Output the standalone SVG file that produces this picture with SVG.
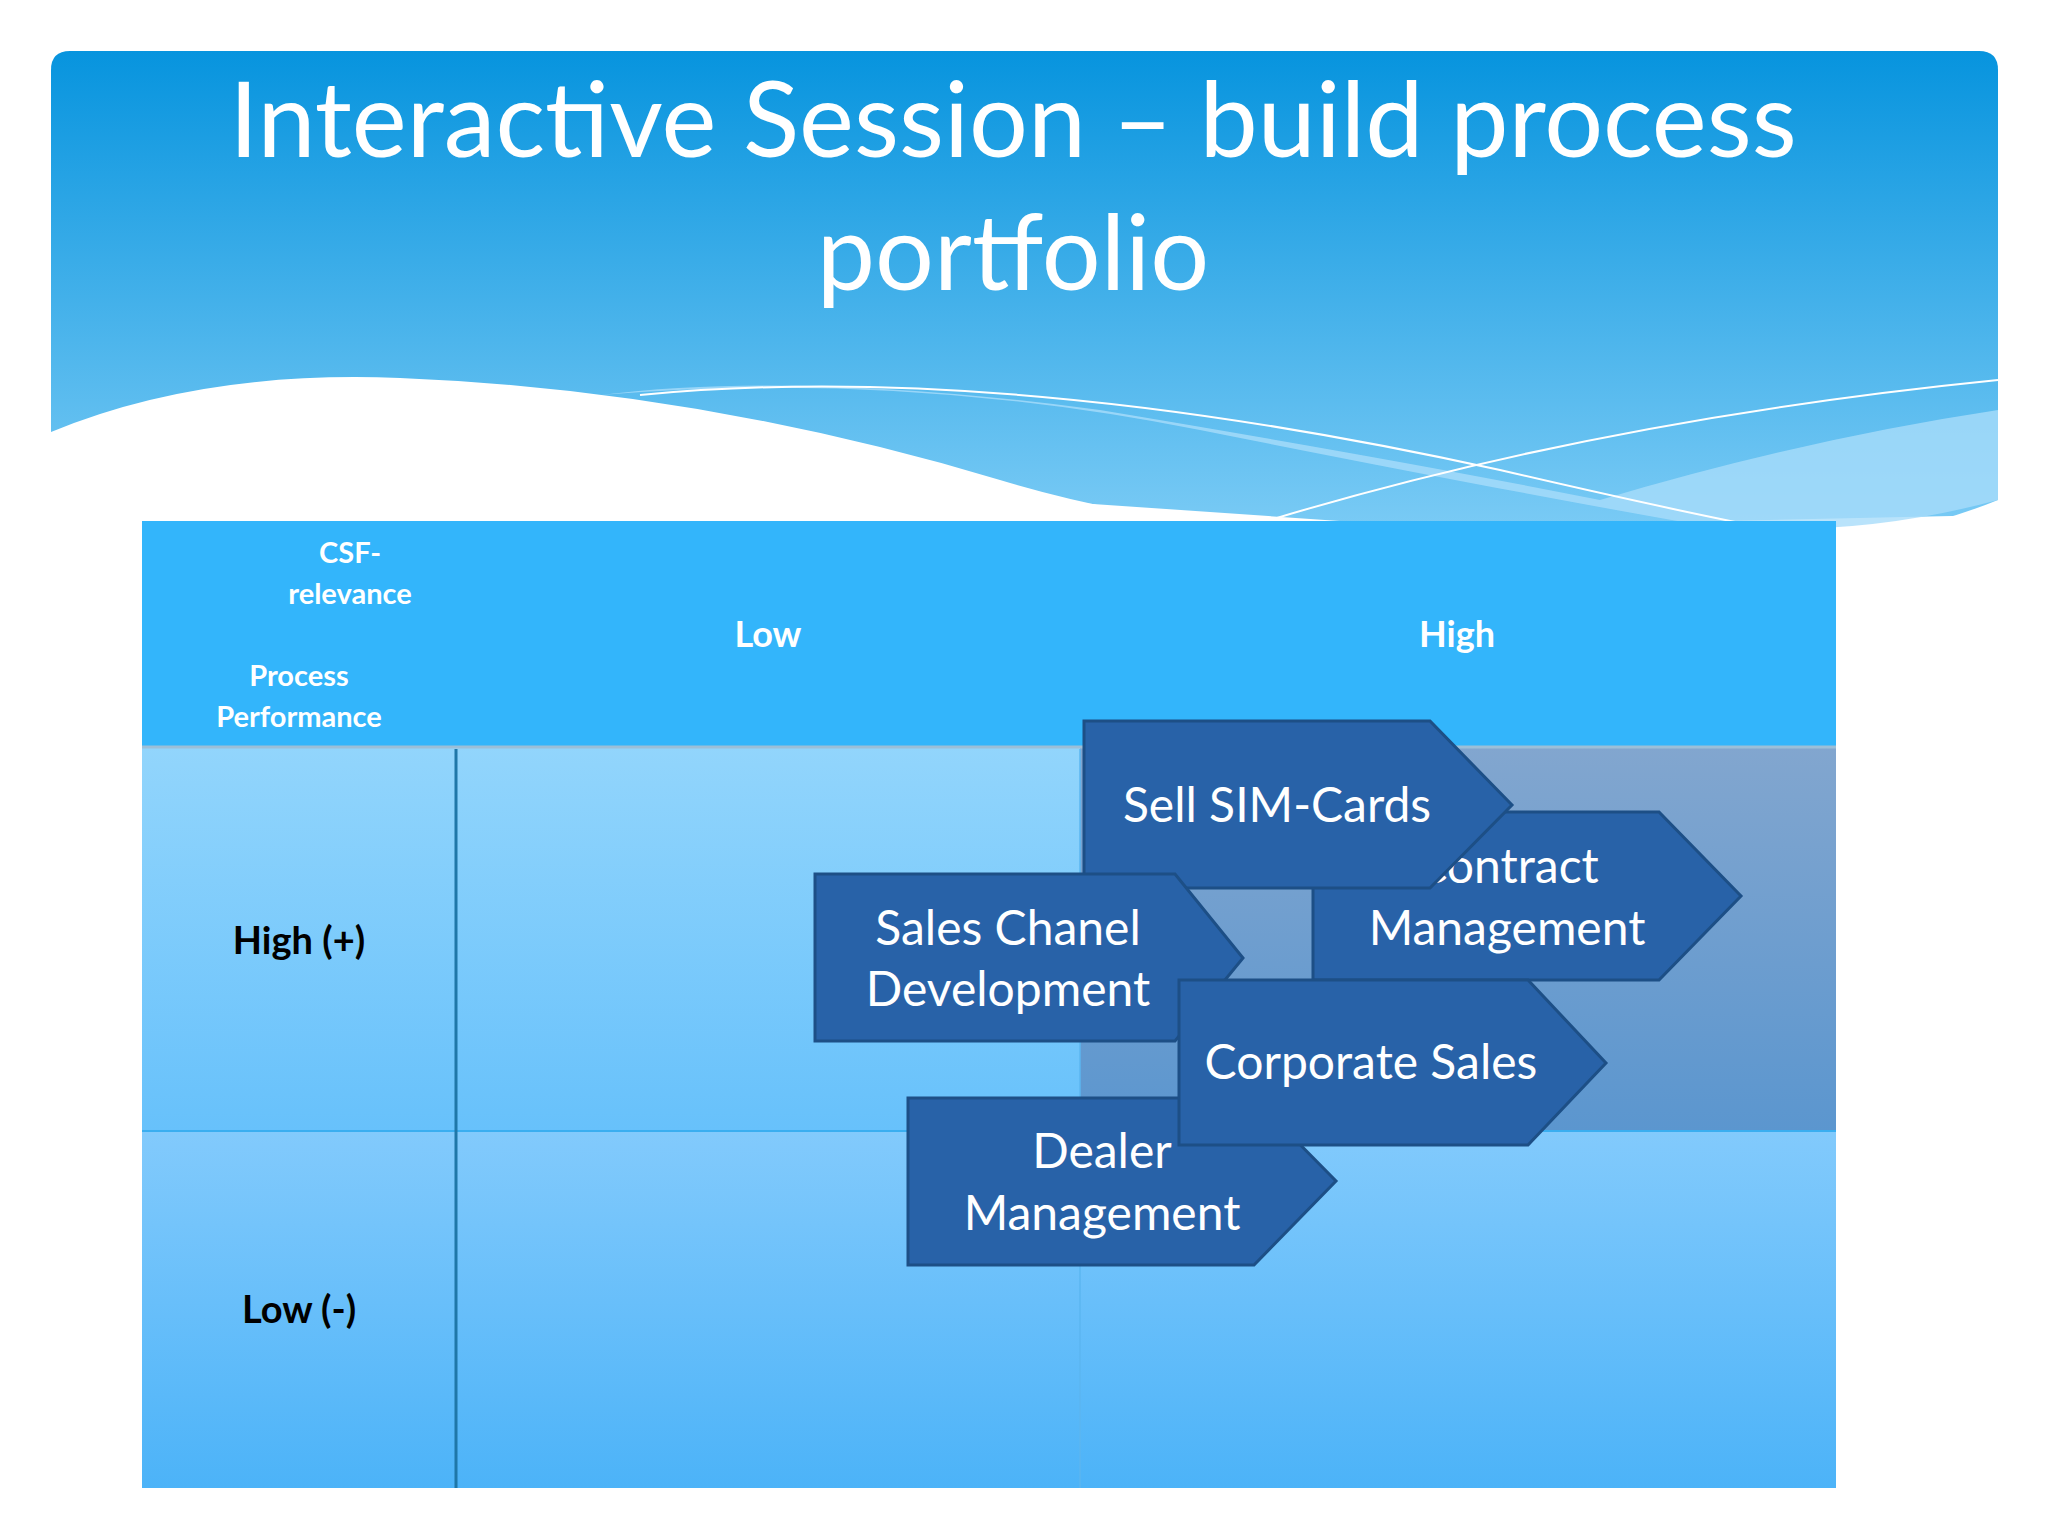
<svg xmlns="http://www.w3.org/2000/svg" width="2048" height="1536" viewBox="0 0 2048 1536">
<defs>
<linearGradient id="hdr" x1="0" y1="0" x2="0" y2="1"><stop offset="0" stop-color="#0794de"/><stop offset="1" stop-color="#7fcdf6"/></linearGradient>
<linearGradient id="cell" x1="0" y1="0" x2="0" y2="1"><stop offset="0" stop-color="#92d5fc"/><stop offset="1" stop-color="#67c1fb"/></linearGradient>
<linearGradient id="cell2" x1="0" y1="0" x2="0" y2="1"><stop offset="0" stop-color="#82cafc"/><stop offset="1" stop-color="#4cb3f8"/></linearGradient>
<linearGradient id="dark" x1="0" y1="0" x2="0" y2="1"><stop offset="0" stop-color="#82a6cf"/><stop offset="1" stop-color="#5b96cf"/></linearGradient>
<style>
.t{font-family:Lato,"Open Sans",sans-serif}
.sh{fill:#2862a8;stroke:#1d4f86;stroke-width:3}
.st{font-family:Lato,"Open Sans",sans-serif;font-size:48px;fill:#fff;text-anchor:middle}
.hd{font-family:Lato,sans-serif;font-weight:bold;fill:#fff;text-anchor:middle}
.rl{font-family:Lato,sans-serif;font-weight:bold;fill:#000;text-anchor:middle;font-size:38px}
</style>
</defs>
<rect width="2048" height="1536" fill="#fff"/>
<path d="M51 70 Q51 51 70 51 L1979 51 Q1998 51 1998 70 L1998 500 Q1900 540 1760 550 L51 432 Z" fill="url(#hdr)"/>
<path d="M51 432 Q200 370 400 378 Q700 390 1000 480 Q1150 525 1300 530 L1998 515 L1998 560 L51 560 Z" fill="#fff"/>
<path d="M600 395 Q900 370 1200 430 Q1500 490 1700 525 Q1850 540 1998 500 L1998 410 Q1800 440 1600 500 Q1400 460 1100 410 Q800 370 600 395 Z" fill="#a8dcfa" opacity="0.8"/>
<path d="M640 395 Q1000 360 1500 470 Q1650 505 1750 525" fill="none" stroke="#fff" stroke-width="2"/>
<path d="M1270 520 Q1600 420 1998 380" fill="none" stroke="#fff" stroke-width="2"/>
<text class="t" x="1013" y="157" font-size="104" fill="#fff" text-anchor="middle">Interactive Session – build process</text>
<text class="t" x="1013" y="290" font-size="104" fill="#fff" text-anchor="middle">portfolio</text>
<g id="table">
<rect x="142" y="521" width="1694" height="226" fill="#33b5fb"/>
<rect x="142" y="747" width="1694" height="384" fill="url(#cell)"/>
<rect x="142" y="1131" width="1694" height="357" fill="url(#cell2)"/>
<rect x="1080" y="747" width="756" height="384" fill="url(#dark)"/>
<line x1="142" y1="747" x2="1836" y2="747" stroke="#9cbfd8" stroke-width="3"/>
<line x1="142" y1="1131" x2="1836" y2="1131" stroke="#3aaef0" stroke-width="2"/>
<line x1="456" y1="749" x2="456" y2="1488" stroke="#1f77a8" stroke-width="3"/>
<line x1="1080" y1="749" x2="1080" y2="1488" stroke="#5bb6f0" stroke-width="1.5"/>
<text class="hd" x="350" y="563" font-size="29">CSF-</text>
<text class="hd" x="350" y="604" font-size="29">relevance</text>
<text class="hd" x="299" y="686" font-size="29">Process</text>
<text class="hd" x="299" y="727" font-size="29">Performance</text>
<text class="hd" x="768" y="647" font-size="36">Low</text>
<text class="hd" x="1457" y="647" font-size="36">High</text>
<text class="rl" x="299" y="954">High (+)</text>
<text class="rl" x="299" y="1323">Low (-)</text>
</g>
<g id="dealer"><path class="sh" d="M908 1098 H1254 L1336 1181 L1254 1265 H908 Z"/><text class="st" x="1102" y="1168">Dealer</text><text class="st" x="1102" y="1230">Management</text></g>
<g id="contract"><path class="sh" d="M1313 812 H1659 L1741 896 L1659 980 H1313 Z"/><text class="st" x="1507" y="883">Contract</text><text class="st" x="1507" y="945">Management</text></g>
<g id="sim"><path class="sh" d="M1084 721 H1430 L1512 805 L1430 888 H1084 Z"/><text class="st" x="1277" y="822">Sell SIM-Cards</text></g>
<g id="sales"><path class="sh" d="M815 874 H1175 L1243 958 L1175 1041 H815 Z"/><text class="st" x="1008" y="945">Sales Chanel</text><text class="st" x="1008" y="1006">Development</text></g>
<g id="corp"><path class="sh" d="M1179 980 H1528 L1606 1063 L1528 1145 H1179 Z"/><text class="st" x="1371" y="1079">Corporate Sales</text></g>
<g id="connectors"/>
</svg>
